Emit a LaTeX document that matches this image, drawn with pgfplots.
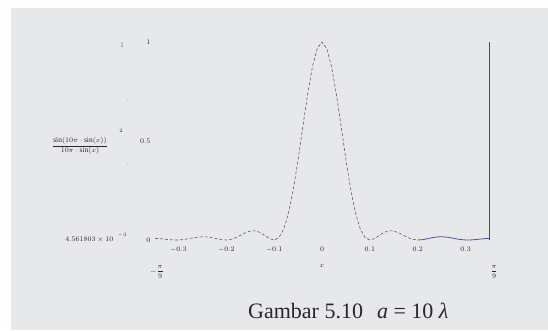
\documentclass[border=0pt]{standalone}
\usepackage{pgfplots}
\pgfplotsset{compat=1.18}
\usepackage{fontspec}
\setmainfont{Liberation Serif}
\definecolor{bgc}{RGB}{231,232,234}
\definecolor{txt}{RGB}{40,40,44}
\definecolor{crv}{RGB}{95,95,100}
\definecolor{crvb}{RGB}{90,80,150}
\pgfplotstableread{
x y
-0.349 0.00814
-0.34 0.00688
-0.33 0.00455
-0.32 0.00199
-0.31 0.00027
-0.30 0.00023
-0.29 0.00226
-0.28 0.00606
-0.27 0.01065
-0.26 0.01459
-0.25 0.01644
-0.24 0.01539
-0.23 0.01156
-0.22 0.00625
-0.21 0.00161
-0.20 0.00005
-0.19 0.00335
-0.18 0.01184
-0.17 0.02403
-0.16 0.03660
-0.15 0.04536
-0.14 0.04661
-0.13 0.03881
-0.12 0.02381
-0.11 0.00769
-0.10 0.00000
-0.09 0.01226
-0.08 0.05522
-0.07 0.13592
-0.06 0.25506
-0.05 0.40562
-0.04 0.57300
-0.03 0.73690
-0.02 0.87514
-0.01 0.96753
0.00 1.00000
0.01 0.96753
0.02 0.87514
0.03 0.73690
0.04 0.57300
0.05 0.40562
0.06 0.25506
0.07 0.13592
0.08 0.05522
0.09 0.01226
0.10 0.00000
0.11 0.00769
0.12 0.02381
0.13 0.03881
0.14 0.04661
0.15 0.04536
0.16 0.03660
0.17 0.02403
0.18 0.01184
0.19 0.00335
0.20 0.00005
}\mainlobe
\pgfplotstableread{
x y
0.20 0.00005
0.21 0.00161
0.22 0.00625
0.23 0.01156
0.24 0.01539
0.25 0.01644
0.26 0.01459
0.27 0.01065
0.28 0.00606
0.29 0.00226
0.30 0.00023
0.31 0.00027
0.32 0.00199
0.33 0.00455
0.34 0.00688
0.349 0.00814
}\rightlobes
\begin{document}
\begin{tikzpicture}[x=1pt,y=1pt]
\path[use as bounding box] (0,0) rectangle (548,330);
\fill[white!97!bgc] (0,0) rectangle (548,330);
\fill[bgc] (11,0) rectangle (548,322);
\begin{axis}[
  at={(155pt,90pt)}, anchor=south west,
  scale only axis, width=334pt, height=198pt,
  xmin=-0.349, xmax=0.349, ymin=0, ymax=1,
  clip=false,
  axis line style={draw=none},
  tick style={draw=none},
  xtick={-0.3,-0.2,-0.1,0,0.1,0.2,0.3},
  xticklabels={$-0.3$,$-0.2$,$-0.1$,$0$,$0.1$,$0.2$,$0.3$},
  ytick={0,0.5,1},
  yticklabels={$0$,$0.5$,$1$},
  ticklabel style={font=\fontsize{7}{8}\selectfont, text=txt},
  xticklabel style={yshift=-3pt},
  yticklabel style={xshift=-1pt},
]
\addplot[crv, line width=0.6pt, densely dashed] table[x=x,y=y] {\mainlobe};
\addplot[crvb, line width=0.8pt] table[x=x,y=y] {\rightlobes};
\addplot[crv!80!black, line width=0.7pt] coordinates {(0.349,0) (0.349,1.0)};
\end{axis}
\node[text=txt, font=\fontsize{7.5}{8.5}\selectfont] at (80,184)
  {$\displaystyle\frac{\sin(10\pi\cdot\sin(x))}{10\pi\cdot\sin(x)}$};
\node[text=txt, font=\fontsize{5.5}{6.5}\selectfont] at (121,199) {$2$};
\node[text=txt, font=\fontsize{7}{8}\selectfont, anchor=east] at (117,90) {$4.561803\times 10$};
\node[text=txt, font=\fontsize{5.5}{6.5}\selectfont] at (122,95) {$-3$};
\node[text=txt!60!bgc, font=\fontsize{7}{8}\selectfont] at (122,285) {$1$};
\node[text=txt, font=\fontsize{6}{7}\selectfont] at (128,230) {$\cdot$};
\node[text=txt, font=\fontsize{6}{7}\selectfont] at (128,165) {$\cdot$};
\node[text=txt, font=\fontsize{7}{8}\selectfont] at (157,58) {$\displaystyle-\frac{\pi}{9}$};
\node[text=txt, font=\fontsize{7}{8}\selectfont] at (322,64) {$x$};
\node[text=txt, font=\fontsize{7}{8}\selectfont] at (494,58) {$\displaystyle\frac{\pi}{9}$};
\node[text=txt, font=\fontsize{22}{25}\selectfont, anchor=base west, inner sep=0pt] at (248,12)
  {Gambar 5.10\hspace{14pt}\textit{a} = 10 \textit{λ}};
\end{tikzpicture}
\end{document}
